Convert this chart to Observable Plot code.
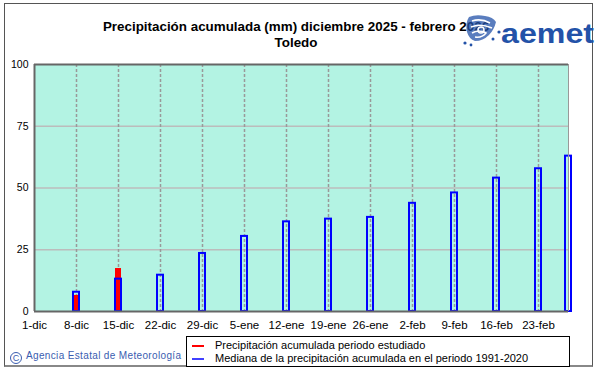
<!DOCTYPE html>
<html><head><meta charset="utf-8">
<script src="https://cdn.jsdelivr.net/npm/d3@7"></script>
<script src="https://cdn.jsdelivr.net/npm/@observablehq/plot@0.6"></script>
<style>
body{margin:0;background:#fff;}
#wrap{position:relative;width:601px;height:374px;overflow:hidden;font-family:Arial,"Liberation Sans",sans-serif;}
#border{position:absolute;left:4px;top:3px;width:589px;height:364px;border:1px solid #555;border-bottom:2px solid #888;box-sizing:border-box;}
#chart{position:absolute;left:0;top:0;}
#title{position:absolute;left:0;width:592px;top:19px;text-align:center;font-weight:bold;font-size:13.4px;line-height:16px;color:#000;}
#logo{position:absolute;left:460px;top:12px;}
#copy{position:absolute;left:10px;top:350px;font-size:10px;color:#3a5db0;letter-spacing:0.35px;white-space:nowrap;}
#copy span{display:inline-block;width:12px;height:12px;border:1px solid #3a5db0;border-radius:50%;box-sizing:border-box;font-size:9px;line-height:10px;text-align:center;margin-right:4px;vertical-align:-2px;letter-spacing:0;}
#legend{position:absolute;left:186px;top:336px;width:384px;height:31px;border:1px solid #000;box-sizing:border-box;background:#fff;font-size:11px;line-height:13px;}
.li{position:absolute;left:28px;white-space:nowrap;color:#000;}
.sw{position:absolute;left:5px;width:12px;height:2px;}
</style></head>
<body>
<div id="wrap">
  <div id="chart"></div>
  <div id="border"></div>
  <div id="title">Precipitación acumulada (mm) diciembre 2025 - febrero 2026<br>Toledo</div>
  <svg id="logo" width="138" height="36" viewBox="0 0 138 36">
    <g fill="#2352a8" opacity="0.75">
      <path d="M9 5 Q16 2 25 4 Q33 5 36 10 Q34 18 29 23 Q23 29 15 29 Q9 27 7 20 Q5 11 9 5 Z"/>
    </g>
    <g fill="#2352a8">
      <circle cx="5" cy="31" r="1.6"/><circle cx="11" cy="33" r="1.4"/><circle cx="33" cy="27" r="1.5"/><circle cx="39" cy="20" r="1.6"/>
    </g>
    <g fill="none" stroke="#fff" stroke-width="1.5">
      <path d="M12 9 Q21 6 30 11"/><path d="M11 15 Q21 11 32 16"/><path d="M12 21 Q19 17 26 21 Q22 26 15 25"/>
      <circle cx="21" cy="18" r="3"/>
    </g>
    <text x="41" y="31" fill="#2352a8" font-family="Arial, 'Liberation Sans', sans-serif" font-weight="bold" font-size="28" textLength="93" lengthAdjust="spacingAndGlyphs">aemet</text>
  </svg>
  <div id="copy"><span>C</span>Agencia Estatal de Meteorología</div>
  <div id="legend">
    <div class="sw" style="top:8px;background:#ff0000"></div>
    <div class="li" style="top:2px">Precipitación acumulada periodo estudiado</div>
    <div class="sw" style="top:21px;background:#4040ff"></div>
    <div class="li" style="top:15px">Mediana de la precipitación acumulada en el periodo 1991-2020</div>
  </div>
</div>
<script>
// Tick labels (x axis) and their dates
const tickLabels = ["1-dic","8-dic","15-dic","22-dic","29-dic","5-ene","12-ene","19-ene","26-ene","2-feb","9-feb","16-feb","23-feb"];
const tickDates = ["2025-12-01","2025-12-08","2025-12-15","2025-12-22","2025-12-29","2026-01-05","2026-01-12","2026-01-19","2026-01-26","2026-02-02","2026-02-09","2026-02-16","2026-02-23"];
const yTicks = [0, 25, 50, 75, 100];

// Median accumulated precipitation 1991-2020 (mm)
const medianDates = ["2025-12-08","2025-12-15","2025-12-22","2025-12-29","2026-01-05","2026-01-12","2026-01-19","2026-01-26","2026-02-02","2026-02-09","2026-02-16","2026-02-23","2026-02-28"];
const medianValues = [7.8, 13.1, 14.7, 23.5, 30.4, 36.3, 37.4, 38.1, 43.8, 48.0, 54.0, 57.8, 62.9];

// Observed accumulated precipitation (mm)
const observedDates = ["2025-12-08","2025-12-15"];
const observedValues = [6.5, 17.4];

const startDate = new Date("2025-12-01");
const endDate = new Date("2026-02-28");
const HALF = 12 * 3600 * 1000;

const median = medianDates.map((d, i) => ({date: new Date(d), value: medianValues[i]}));
const observed = observedDates.map((d, i) => ({date: new Date(d), value: observedValues[i]}));
const ticks = tickDates.map(d => new Date(d));
const labelMap = new Map(ticks.map((d, i) => [+d, tickLabels[i]]));

const chart = Plot.plot({
  width: 601,
  height: 374,
  marginLeft: 34,
  marginRight: 33,
  marginTop: 64,
  marginBottom: 63,
  style: {fontFamily: "Arial, 'Liberation Sans', sans-serif", background: "transparent", color: "#000"},
  x: {type: "utc", domain: [startDate, endDate], label: null},
  y: {domain: [0, 100], label: null},
  marks: [
    Plot.frame({fill: "#b3f3e3", stroke: "none"}),
    Plot.ruleY([25, 50, 75], {stroke: "#bcbcbc", strokeWidth: 1.5}),
    Plot.ruleX(ticks.slice(1), {stroke: "#999", strokeWidth: 1.5, strokeDasharray: "3,2"}),
    Plot.rect(observed, {x1: d => new Date(+d.date - HALF), x2: d => new Date(+d.date + HALF), y1: 0, y2: "value", fill: "#ff0000"}),
    Plot.rect(median, {x1: d => new Date(+d.date - HALF), x2: d => new Date(+d.date + HALF), y1: 0, y2: "value", fill: "none", stroke: "#0000ff", strokeWidth: 2}),
    Plot.ruleX([endDate], {stroke: "#999", strokeWidth: 1}),
    Plot.ruleY([0], {stroke: "#666", strokeWidth: 2}),
    Plot.ruleY([100], {stroke: "#666", strokeWidth: 2}),
    Plot.ruleX([startDate], {stroke: "#666", strokeWidth: 2}),
    Plot.axisX(ticks, {tickSize: 0, tickPadding: 9, fontSize: 11.5, tickFormat: d => labelMap.get(+d), fill: "#000", label: null}),
    Plot.axisY(yTicks, {tickSize: 0, tickPadding: 6, fontSize: 10.5, fill: "#000", label: null})
  ]
});
document.getElementById("chart").appendChild(chart);
</script>
</body></html>
